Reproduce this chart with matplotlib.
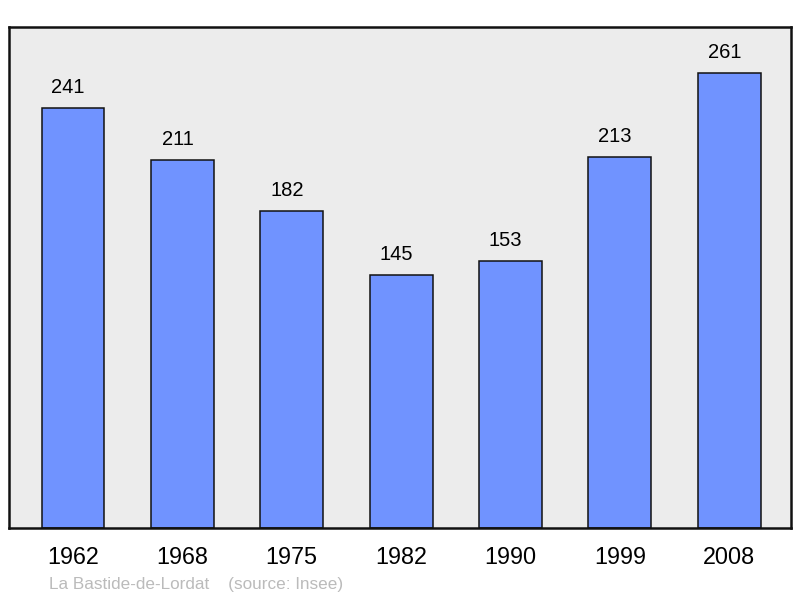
import matplotlib
matplotlib.use('Agg')
import matplotlib.pyplot as plt

# data
years = ['1962', '1968', '1975', '1982', '1990', '1999', '2008']
population = [241, 211, 182, 145, 153, 213, 261]
commune = 'La Bastide-de-Lordat'
source = '(source: Insee)'

plt.rcParams['font.family'] = ['Liberation Sans', 'DejaVu Sans']

fig = plt.figure(figsize=(8, 5.98), dpi=100)
ax = fig.add_axes([9/800, 1-528/598, 782/800, 501/598])
ax.set_facecolor('#ececec')

x = range(len(years))
bars = ax.bar(x, population, width=0.575, color='#7093ff', edgecolor='#111111', linewidth=1.1)
for b, v in zip(bars, population):
    ax.annotate(str(v), (b.get_x() + b.get_width()/2, v), xytext=(-3.5, 7.8),
                textcoords='offset points', ha='center', va='bottom', fontsize=14.5)

ax.set_xlim(-0.585, 6.565)
ax.set_ylim(0, 287.4)
ax.set_yticks([])
ax.set_xticks(list(x))
ax.set_xticklabels(years, fontsize=16.8)
ax.tick_params(axis='x', length=0, pad=13)
for s in ax.spines.values():
    s.set_linewidth(1.8)
    s.set_color('#111111')

fig.text(49/800, 1-584/598, commune + '    ' + source, fontsize=12.3, color='#bbbbbb', va='center')

fig.savefig('out.png', dpi=100)
